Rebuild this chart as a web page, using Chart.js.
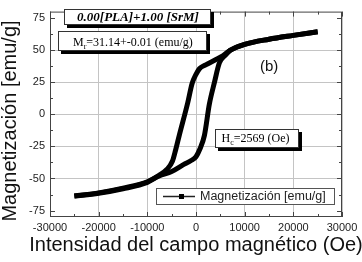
<!DOCTYPE html>
<html>
<head>
<meta charset="utf-8">
<script src="https://cdn.jsdelivr.net/npm/chart.js@4.4.1/dist/chart.umd.min.js"></script>
<style>
  html, body { margin: 0; padding: 0; background: #fff; }
  #wrap { width: 362px; height: 262px; }
</style>
</head>
<body>
<div id="wrap"><canvas id="ciclo" width="362" height="262"></canvas></div>
<script>
// rama que baja (de +25000 a -25000 Oe), escrita con el campo creciente
var campoBajada = [-25000, -20000, -15000, -10000, -7600, -6000, -4830, -4200, -3450, -1700, -800, 0, 700, 2000, 4000, 5500, 7000, 10000, 15000, 20000, 25000];
var magBajada   = [-63.7, -61.2, -57.5, -52.5, -47.6, -43, -36.4, -28, -16.6, 9, 24, 31.1, 35.5, 38.5, 42.5, 45.5, 49.8, 54.5, 58.5, 61.5, 64.3];
// rama que sube (de -25000 a +25000 Oe)
var campoSubida = [-25000, -20000, -15000, -10000, -7600, -5000, -2500, -1000, 0, 800, 1720, 2750, 3800, 4800, 6000, 7000, 10000, 15000, 20000, 25000];
var magSubida   = [-63.7, -61.5, -58, -53, -48, -44.5, -39, -36, -33, -27, -16.6, 8, 25, 40, 46, 49.8, 54.5, 58.5, 61.5, 64.3];

var xTicks = [-30000, -20000, -10000, 0, 10000, 20000, 30000];
var yTicks = [-75, -50, -25, 0, 25, 50, 75];

var tituloX = 'Intensidad del campo magnético (Oe)';
var tituloY = 'Magnetización [emu/g]';
var muestra = '0.00[PLA]+1.00 [SrM]';
var remanencia = '=31.14+-0.01 (emu/g)';
var coercitivo = '=2569 (Oe)';
var nombreSerie = 'Magnetización [emu/g]';

function puntos(xs, ys) {
  return xs.map(function (v, i) { return { x: v, y: ys[i] }; });
}

var sans = 'Arial, "Liberation Sans", sans-serif';
var serif = '"Times New Roman", "Liberation Serif", serif';

function caja(ctx, x, y, w, h) {
  ctx.fillStyle = '#000';
  ctx.fillRect(x + 3, y + 3, w, h);
  ctx.fillStyle = '#fff';
  ctx.fillRect(x, y, w, h);
  ctx.strokeStyle = '#333';
  ctx.lineWidth = 1;
  ctx.strokeRect(x + 0.5, y + 0.5, w - 1, h - 1);
  ctx.fillStyle = '#000';
}

// texto con subindice: M_r, H_c
function conSubindice(ctx, letra, sub, resto, x, y) {
  ctx.font = '12px ' + serif;
  ctx.fillText(letra, x, y);
  var w = ctx.measureText(letra).width;
  ctx.font = '8px ' + serif;
  ctx.fillText(sub, x + w, y + 3);
  var w2 = ctx.measureText(sub).width;
  ctx.font = '12px ' + serif;
  ctx.fillText(resto, x + w + w2, y);
}

// marco, rayitas de los ejes, titulos, cuadros de texto y leyenda
var extras = {
  id: 'extras',
  afterDatasetsDraw: function (chart) {
    var ctx = chart.ctx, a = chart.chartArea, sx = chart.scales.x, sy = chart.scales.y;
    ctx.save();
    ctx.strokeStyle = '#444';
    ctx.lineWidth = 1;
    ctx.strokeRect(a.left + 0.5, a.top + 0.5, a.right - a.left - 1, a.bottom - a.top - 1);
    ctx.beginPath();
    xTicks.forEach(function (v, i) {
      var p = Math.round(sx.getPixelForValue(v)) + 0.5;
      ctx.moveTo(p, a.bottom); ctx.lineTo(p, a.bottom - 5);
      ctx.moveTo(p, a.top); ctx.lineTo(p, a.top + 5);
      if (i < xTicks.length - 1) {
        var m = Math.round(sx.getPixelForValue(v + 5000)) + 0.5;
        ctx.moveTo(m, a.bottom); ctx.lineTo(m, a.bottom - 3);
        ctx.moveTo(m, a.top); ctx.lineTo(m, a.top + 3);
      }
    });
    yTicks.forEach(function (v, i) {
      var p = Math.round(sy.getPixelForValue(v)) + 0.5;
      ctx.moveTo(a.left, p); ctx.lineTo(a.left + 5, p);
      ctx.moveTo(a.right, p); ctx.lineTo(a.right - 5, p);
      if (i < yTicks.length - 1) {
        var m = Math.round(sy.getPixelForValue(v + 12.5)) + 0.5;
        ctx.moveTo(a.left, m); ctx.lineTo(a.left + 3, m);
        ctx.moveTo(a.right, m); ctx.lineTo(a.right - 3, m);
      }
    });
    ctx.stroke();
    ctx.restore();
  },
  afterDraw: function (chart) {
    var ctx = chart.ctx;
    ctx.save();

    // titulos de los ejes (mas anchos que el area del grafico)
    ctx.fillStyle = '#111';
    ctx.font = '20px ' + sans;
    ctx.textAlign = 'center';
    ctx.textBaseline = 'middle';
    ctx.fillText(tituloX, 196, 245);
    ctx.save();
    ctx.translate(10, 121);
    ctx.rotate(-Math.PI / 2);
    ctx.fillText(tituloY, 0, 0);
    ctx.restore();

    // muestra
    caja(ctx, 64, 9, 147, 16);
    ctx.font = 'italic bold 13px ' + serif;
    ctx.fillText(muestra, 138, 18);

    ctx.textAlign = 'left';
    ctx.textBaseline = 'alphabetic';
    // Mr
    caja(ctx, 58, 31, 149, 20);
    conSubindice(ctx, 'M', 'r', remanencia, 73, 45.5);
    // Hc
    caja(ctx, 215, 129, 84, 19);
    conSubindice(ctx, 'H', 'c', coercitivo, 221.5, 142);

    // (b)
    ctx.fillStyle = '#111';
    ctx.font = '15px ' + sans;
    ctx.textBaseline = 'middle';
    ctx.fillText('(b)', 260, 67);

    // leyenda
    ctx.fillStyle = '#fff';
    ctx.fillRect(156, 188, 179, 17);
    ctx.strokeStyle = '#555';
    ctx.lineWidth = 1;
    ctx.strokeRect(156.5, 188.5, 178, 16);
    ctx.strokeStyle = '#222';
    ctx.lineWidth = 1.5;
    ctx.beginPath();
    ctx.moveTo(163, 196.5); ctx.lineTo(195, 196.5);
    ctx.stroke();
    ctx.fillStyle = '#000';
    ctx.fillRect(179, 194, 5, 5);
    ctx.fillStyle = '#222';
    ctx.font = '12.5px ' + sans;
    ctx.fillText(nombreSerie, 200, 197);
    ctx.restore();
  }
};

new Chart(document.getElementById('ciclo'), {
  type: 'line',
  data: {
    datasets: [
      { label: nombreSerie, data: puntos(campoBajada, magBajada) },
      { label: nombreSerie, data: puntos(campoSubida, magSubida) }
    ]
  },
  options: {
    responsive: false,
    devicePixelRatio: 1,
    animation: false,
    layout: { padding: { top: 4, right: 20, left: 0, bottom: 0 } },
    elements: {
      line: { borderColor: '#000', borderWidth: 5, cubicInterpolationMode: 'monotone', borderJoinStyle: 'round' },
      point: { radius: 0 }
    },
    plugins: { legend: { display: false }, tooltip: { enabled: false } },
    scales: {
      x: {
        type: 'linear',
        min: -30000,
        max: 30000,
        afterBuildTicks: function (s) { s.ticks = xTicks.map(function (v) { return { value: v }; }); },
        afterFit: function (s) { s.height = 45; },
        grid: { color: '#c4c4c4', drawTicks: false },
        border: { display: false },
        ticks: { padding: 4, color: '#222', font: { family: sans, size: 11 }, maxRotation: 0, callback: function (v) { return String(v); } }
      },
      y: {
        min: -80,
        max: 80,
        afterBuildTicks: function (s) { s.ticks = yTicks.map(function (v) { return { value: v }; }); },
        afterFit: function (s) { s.width = 50; },
        grid: {
          drawTicks: false,
          color: function (c) { return Math.abs(c.tick.value) === 75 ? 'rgba(0,0,0,0)' : '#c4c4c4'; }
        },
        border: { display: false },
        ticks: { padding: 5, color: '#222', font: { family: sans, size: 11 } }
      }
    }
  },
  plugins: [extras]
});
</script>
</body>
</html>
